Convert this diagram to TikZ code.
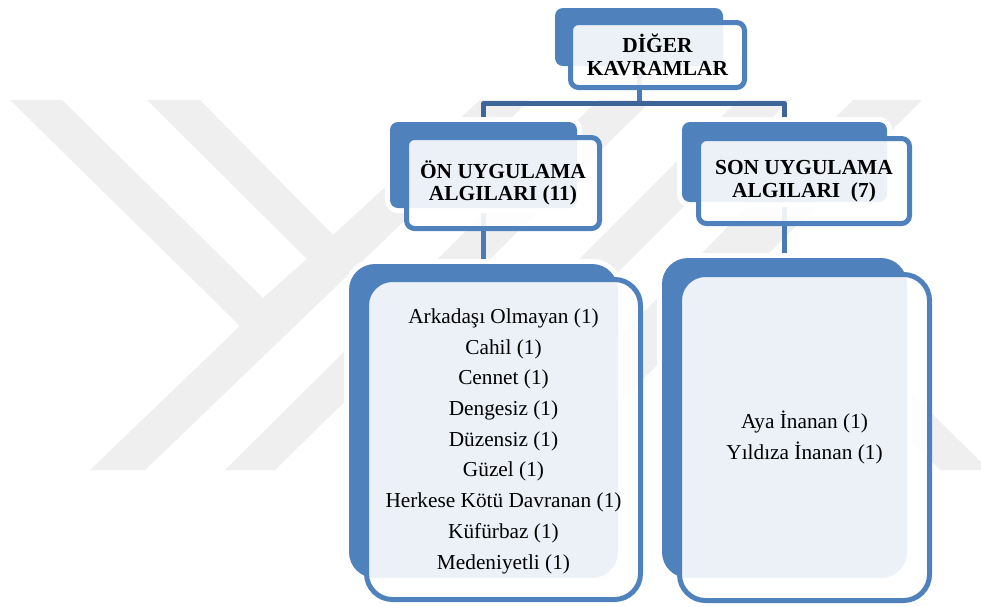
\documentclass[tikz,border=0pt]{standalone}
\usepackage{fontspec}
\setmainfont{Liberation Serif}
\definecolor{boxblue}{HTML}{4F81BD}
\definecolor{busblue}{HTML}{3E6598}
\definecolor{stemblue}{HTML}{4A7AB2}
\definecolor{mark}{HTML}{EFEFEF}
\tikzset{
  backcard/.style={rectangle,inner sep=0pt,outer sep=0pt,fill=boxblue,
    preaction={draw=white,line width=10pt},minimum width=#1},
  frontcard/.style={rectangle,inner sep=0pt,outer sep=0pt,draw=boxblue,line width=5pt,
    fill=white,fill opacity=0.89,text opacity=1,align=center,minimum width=#1},
  smallcard/.style={rounded corners=8pt},
  bigcard/.style={rounded corners=26pt},
  headtext/.style={font=\fontsize{21.4}{22.6}\selectfont\bfseries},
  listtext/.style={font=\fontsize{21.3}{30.7}\selectfont},
  bus/.style={draw=busblue,line width=5pt,line join=round},
  stem/.style={draw=stemblue,line width=5.5pt},
  watermark/.style={fill=mark,draw=none}
}
\begin{document}
\begin{tikzpicture}[x=1pt,y=-1pt]
\useasboundingbox (0,0) rectangle (981,606);
\fill[white] (0,0) rectangle (981,606);
% watermark
\fill[watermark] (10,100)--(62,100)--(263,298)--(307,259)--(147,100)--(200,100)--(333,235)--(480,100)--(530,100)--(145,470)--(90,470)--(240,326)--cycle;
\fill[watermark] (225,470)--(275,470)--(652,100)--(598,100)--cycle;
\fill[watermark] (368,470)--(420,470)--(790,100)--(738,100)--cycle;
\fill[watermark] (488,470)--(552,470)--(922,100)--(853,100)--cycle;
\fill[watermark] (769,253)--(981,462)--(981,470)--(940,470)--(746,276)--cycle;
% node anchors for connectors
\coordinate (busA) at (639,103.5);
\path
  node[backcard=168pt,minimum height=58pt,smallcard,draw=none,fill=none,preaction={draw=none}] (a0) at (639,37) {}
  node[backcard=187pt,minimum height=86pt,smallcard,draw=none,fill=none,preaction={draw=none}] (l0) at (483.5,165) {}
  node[backcard=205pt,minimum height=80pt,smallcard,draw=none,fill=none,preaction={draw=none}] (r0) at (784.5,162) {}
  node[backcard=269pt,minimum height=314pt,bigcard,draw=none,fill=none,preaction={draw=none}] (l2) at (483.5,421) {}
  node[backcard=245pt,minimum height=320pt,bigcard,draw=none,fill=none,preaction={draw=none}] (r2) at (784.5,418) {};
% connectors
\draw[stem] (l0.center) -- (l2.center);
\draw[stem] (r0.center) -- (r2.center);
\draw[stem,line width=5pt] (a0.center) -- (busA);
\draw[bus] (l0.center) |- (busA) -| (r0.center);
% cards
\node[backcard=168pt,minimum height=58pt,smallcard] at (a0.center) {};
\node[frontcard=174pt,minimum height=65pt,smallcard,headtext] (a1) at (657.5,55) {DİĞER\\KAVRAMLAR};
\node[backcard=187pt,minimum height=86pt,smallcard] at (l0.center) {};
\node[frontcard=193pt,minimum height=91pt,smallcard,headtext] (l1) at (503,183) {ÖN UYGULAMA\\ALGILARI (11)};
\node[backcard=205pt,minimum height=80pt,smallcard] at (r0.center) {};
\node[frontcard=211pt,minimum height=85pt,smallcard,headtext] (r1) at (804,181) {SON UYGULAMA\\ALGILARI~~(7)};
\node[backcard=269pt,minimum height=314pt,bigcard] at (l2.center) {};
\node[frontcard=274pt,minimum height=320pt,bigcard,listtext] (l3) at (503.5,439.5) {\rule{0pt}{18pt}Arkadaşı Olmayan (1)\\Cahil (1)\\Cennet (1)\\Dengesiz (1)\\Düzensiz (1)\\Güzel (1)\\Herkese Kötü Davranan (1)\\Küfürbaz (1)\\Medeniyetli (1)};
\node[backcard=245pt,minimum height=320pt,bigcard] at (r2.center) {};
\node[frontcard=250pt,minimum height=326pt,bigcard,listtext] (r3) at (804.5,437.5) {Aya İnanan (1)\\Yıldıza İnanan (1)};
\end{tikzpicture}
\end{document}
